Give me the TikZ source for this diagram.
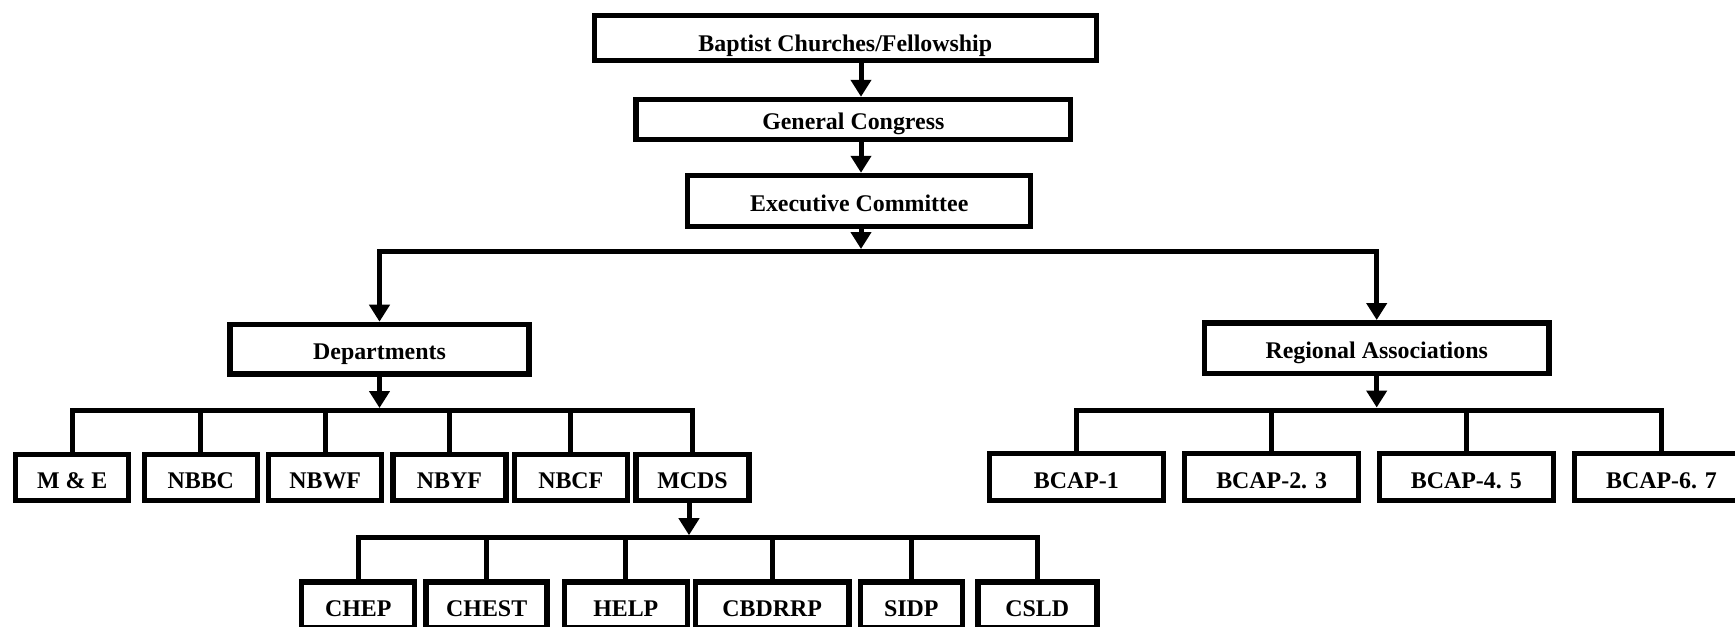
\documentclass[tikz,border=0pt]{standalone}
\usepackage{fontspec}
\setmainfont{Liberation Serif}
\usetikzlibrary{arrows.meta,positioning,calc}

\tikzset{
  unit/.style={draw, line width=0.11cm, inner sep=0pt, text height=0.4cm, text depth=0pt,
    font=\bfseries\fontsize{13.6}{16}\selectfont},
  dept box/.style={unit, minimum width=2.26cm, minimum height=0.92cm, text height=0.44cm},
  reg box/.style={unit, minimum width=3.48cm, minimum height=0.94cm, text height=0.45cm},
  prog box/.style={unit, minimum height=0.92cm, text height=0.45cm},
  link/.style={line width=0.1cm},
  arr/.style={link, -{Triangle[width=0.4cm,length=0.34cm]}}
}

\begin{document}
\begin{tikzpicture}[x=0.02cm, y=-0.02cm]
    \useasboundingbox (0,0) rectangle (1735,626);

    % top of the chart
    \node [unit, minimum width=10.04cm, minimum height=0.9cm, text height=0.52cm] (bcf) at (845.3,38) {Baptist Churches/Fellowship};
    \node [unit, minimum width=8.69cm, minimum height=0.8cm, text height=0.38cm] (gc) at (853.3,119.5) {General Congress};
    \node [unit, minimum width=6.86cm, minimum height=1.02cm] (exc) at (859.2,201) {Executive Committee};
    \node [unit, minimum width=5.98cm, minimum height=0.99cm] (dept) at (379.5,349.2) {Departments};
    \node [unit, minimum width=6.89cm, minimum height=1.01cm] (reg) at (1376.7,348) {Regional Associations};

    % departments
    \node [dept box] (me) at (72.2,477.5) {M \& E};
    \node [dept box] (nbbc) at (200.8,477.5) {NBBC};
    \node [dept box] (nbwf) at (325.2,477.5) {NBWF};
    \node [dept box] (nbyf) at (449.4,477.5) {NBYF};
    \node [dept box] (nbcf) at (570.8,477.5) {NBCF};
    \node [dept box] (mcds) at (692.5,477.5) {MCDS};

    % regional associations
    \node [reg box] (b1) at (1076.3,477) {BCAP-1};
    \node [reg box] (b23) at (1271.7,477) {BCAP-2. 3};
    \node [reg box] (b45) at (1466.3,477) {BCAP-4. 5};
    \node [reg box] (b67) at (1661.5,477) {BCAP-6. 7};

    % MCDS programmes
    \node [prog box, minimum width=2.26cm] (chep) at (358.2,604.8) {CHEP};
    \node [prog box, minimum width=2.42cm] (chest) at (486.7,604.8) {CHEST};
    \node [prog box, minimum width=2.46cm] (help) at (625.8,604.8) {HELP};
    \node [prog box, minimum width=3.07cm] (cbdrrp) at (772.2,604.8) {CBDRRP};
    \node [prog box, minimum width=2.04cm] (sidp) at (911.3,604.8) {SIDP};
    \node [prog box, minimum width=2.38cm] (csld) at (1037.3,604.8) {CSLD};

    \coordinate (top) at (861,251.5);
    \coordinate (dbar) at (379.5,410.5);
    \coordinate (rbar) at (1376.7,410);
    \coordinate (mbar) at (689,537.7);

    \draw [arr] (bcf.south -| top) -- (gc.north -| top);
    \draw [arr] (gc.south -| top) -- (exc.north -| top);
    \draw [arr, shorten >=0.05cm] (exc.south -| top) -- (top);
    \draw [arr] (top) -| (dept.north);
    \draw [arr] (top) -| (reg.north);

    \draw [arr, shorten >=0.05cm] (dept.south) -- (dbar);
    \draw [link] (me.north) |- (dbar) -| (mcds.north);
    \foreach \n in {nbbc,nbwf,nbyf,nbcf}
        \draw [link] (\n.north) -- (\n.north |- dbar);

    \draw [arr, shorten >=0.05cm] (reg.south) -- (rbar);
    \draw [link] (b1.north) |- (rbar) -| (b67.north);
    \foreach \n in {b23,b45}
        \draw [link] (\n.north) -- (\n.north |- rbar);

    \draw [arr, shorten >=0.05cm] (mcds.south -| mbar) -- (mbar);
    \draw [link] (chep.north) |- (mbar) -| (csld.north);
    \foreach \n in {chest,help,cbdrrp,sidp}
        \draw [link] (\n.north) -- (\n.north |- mbar);
\end{tikzpicture}
\end{document}
